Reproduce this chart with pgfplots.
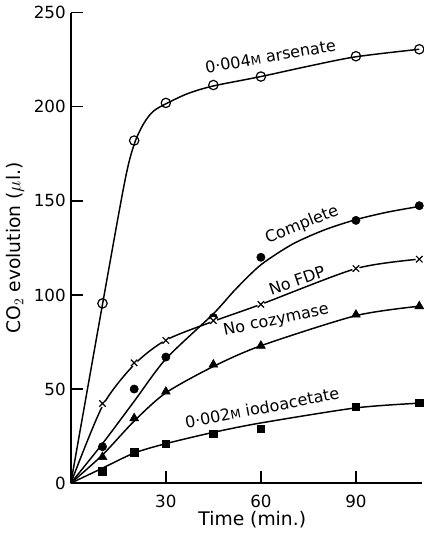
\documentclass[border=0pt]{standalone}
\usepackage{pgfplots}
\pgfplotsset{compat=1.18}
\usepackage{fontspec}
\setmainfont{DejaVu Sans}

\begin{document}
\fontsize{14}{16}\selectfont
\begin{tikzpicture}
\begin{axis}[
    scale only axis,
    width=263pt,
    height=352pt,
    xmin=0, xmax=111,
    ymin=0, ymax=250,
    axis x line*=bottom,
    axis y line*=left,
    axis line style={line width=1.1pt},
    xtick={30,60,90},
    ytick={0,50,100,150,200,250},
    xtick align=outside,
    ytick align=outside,
    major tick length=-9pt,
    every major tick/.append style={line width=1.1pt, black},
    /pgf/number format/assume math mode=true,
    ticklabel style={font=\fontsize{12.5}{14}\selectfont},
    xticklabel style={yshift=-13pt},
    yticklabel style={xshift=-8pt},
    xlabel={Time (min.)},
    ylabel={CO$_2$ evolution ($\mu$l.)},
    xlabel style={at={(axis description cs:0.516,0)}, anchor=north, yshift=-16pt},
    ylabel style={at={(axis description cs:0,0.5)}, anchor=south, yshift=30pt},
    clip=false,
]
% curves (smooth hand-drawn fits)
\addplot[smooth, tension=0.5, line width=1.1pt] coordinates {
  (0,0) (10,95) (17,160) (20,180) (23,191) (26,197.5) (30,201.5) (37,207) (45,211) (60,216) (75,221.5) (90,226.5) (110,230.5)};
\addplot[smooth, tension=0.45, line width=1.1pt] coordinates {
  (0,0) (10,21) (20,43.5) (30,66) (45,90) (52,103) (60,116) (70,127) (80,134.5) (90,140) (100,144) (110,147)};
\addplot[smooth, tension=0.45, line width=1.1pt] coordinates {
  (0,0) (10,41) (20,63) (30,76) (45,86) (60,95) (90,114) (110,119)};
\addplot[smooth, tension=0.45, line width=1.1pt] coordinates {
  (0,0) (10,15) (20,33) (30,48) (45,62) (60,73) (90,89) (110,94)};
\addplot[smooth, tension=0.45, line width=1.1pt] coordinates {
  (0,0) (10,8) (20,16) (30,21) (45,27) (60,32) (90,40) (110,42.5)};

% markers
\addplot[only marks, mark=o, mark size=3.5pt, mark options={fill=white, line width=0.9pt}] coordinates {
  (10,95.5) (20,182) (30,202) (45,211.5) (60,216) (90,226.8) (110,230.5)};
\addplot[only marks, mark=*, mark size=3.1pt] coordinates {
  (10,19.4) (20,50) (30,67) (45,88) (60,120) (90,139.6) (110,147.4)};
\addplot[only marks, mark=*, mark size=2.6pt, white] coordinates {
  (10,42.3) (20,63.9) (30,75.8) (45,86.4) (60,95) (90,114) (110,119)};
\addplot[only marks, mark=x, mark size=3.4pt, mark options={line width=0.9pt}] coordinates {
  (10,42.3) (20,63.9) (30,75.8) (45,86.4) (60,95) (90,114) (110,119)};
\addplot[only marks, mark=triangle*, mark size=3.8pt] coordinates {
  (10,13.9) (20,34.5) (30,48.6) (45,63) (60,73) (90,89.5) (110,94)};
\addplot[only marks, mark=square*, mark size=2.8pt] coordinates {
  (10,6.4) (20,16.5) (30,21) (45,26.3) (60,29) (90,40.5) (110,42.8)};

% curve labels
\begin{scope}[every node/.style={anchor=base west, inner sep=0pt, font=\fontsize{12}{14}\selectfont}]
\node[rotate=10] at (axis cs:42.7,217.6) {0·004{\fontsize{9}{10}\selectfont M} arsenate};
\node[rotate=22] at (axis cs:62.1,127.3) {Complete};
\node[rotate=19] at (axis cs:63.2,99.8) {No FDP};
\node[rotate=12] at (axis cs:48.5,78.4) {No cozymase};
\node[rotate=11] at (axis cs:36.4,29) {0·002{\fontsize{9}{10}\selectfont M} iodoacetate};
\end{scope}
\end{axis}
\end{tikzpicture}
\end{document}
